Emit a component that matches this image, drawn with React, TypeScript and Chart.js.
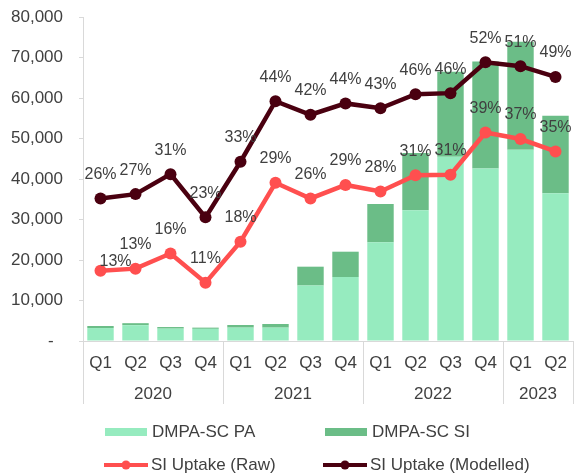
import React, { useEffect, useRef } from "react";
import { Chart, registerables } from "chart.js";

Chart.register(...registerables);

const quarters = ["Q1", "Q2", "Q3", "Q4", "Q1", "Q2", "Q3", "Q4", "Q1", "Q2", "Q3", "Q4", "Q1", "Q2"];
const years = ["2020", "2021", "2022", "2023"];
const quartersPerYear = [4, 4, 4, 2];

const paValues = [3200, 3900, 3050, 3000, 3300, 3300, 13700, 15800, 24400, 32300, 45500, 42600, 47200, 36500];
const siValues = [500, 500, 400, 300, 650, 900, 4650, 6250, 9400, 14100, 21000, 26400, 26700, 19100];
const rawUptake = [13.0, 13.4, 16.2, 10.8, 18.4, 29.3, 26.4, 28.9, 27.7, 30.7, 30.8, 38.6, 37.4, 35.1];
const modelledUptake = [26.4, 27.2, 30.9, 22.9, 33.2, 44.4, 41.9, 44.0, 43.1, 45.7, 45.9, 51.6, 50.9, 48.9];

const seriesNames = ["DMPA-SC PA", "DMPA-SC SI", "SI Uptake (Raw)", "SI Uptake (Modelled)"];
const seriesColors = ["#96EBBF", "#6BBD87", "#FF4F4F", "#4A0010"];

const yMax = 80000;
const yStep = 10000;
const pctMax = 60;

const FONT = '"Liberation Sans", Arial, sans-serif';
const TEXT = "#404040";
const AXIS = "#d9d9d9";

const pctLabelPlugin = {
  id: "pctLabels",
  afterDatasetsDraw(chart: any) {
    const ctx = chart.ctx;
    ctx.save();
    ctx.font = `16px ${FONT}`;
    ctx.fillStyle = TEXT;
    ctx.textAlign = "center";
    ctx.textBaseline = "middle";
    chart.data.datasets.forEach((ds: any, i: number) => {
      if (ds.type !== "line") return;
      const meta = chart.getDatasetMeta(i);
      meta.data.forEach((pt: any, j: number) => {
        const v = ds.data[j];
        let dx = 0;
        let dy = -24;
        // first raw label sits to the right, closer to its point
        if (i === 0 && j === 0) {
          dx = 15;
          dy = -9;
        }
        ctx.fillText(`${Math.round(v)}%`, pt.x + dx, pt.y + dy);
      });
    });
    ctx.restore();
  },
};

const yearAxisPlugin = {
  id: "yearAxis",
  afterDraw(chart: any) {
    const ctx = chart.ctx;
    const xs = chart.scales.x;
    const area = chart.chartArea;
    const n = quarters.length;
    const w = (xs.right - xs.left) / n;
    ctx.save();
    ctx.strokeStyle = AXIS;
    ctx.lineWidth = 1;
    let start = 0;
    const bounds: number[] = [0];
    quartersPerYear.forEach((c) => {
      start += c;
      bounds.push(start);
    });
    bounds.forEach((b) => {
      let px = Math.round(xs.left + b * w) + 0.5;
      if (px > chart.width) px = chart.width - 0.5;
      ctx.beginPath();
      ctx.moveTo(px, area.bottom);
      ctx.lineTo(px, area.bottom + 63);
      ctx.stroke();
    });
    ctx.font = `17px ${FONT}`;
    ctx.fillStyle = TEXT;
    ctx.textAlign = "center";
    ctx.textBaseline = "middle";
    years.forEach((y, i) => {
      const cx = xs.left + ((bounds[i] + bounds[i + 1]) / 2) * w;
      ctx.fillText(y, cx, area.bottom + 53);
    });
    ctx.restore();
  },
};

const legendPlugin = {
  id: "customLegend",
  afterDraw(chart: any) {
    const ctx = chart.ctx;
    ctx.save();
    ctx.font = `17px ${FONT}`;
    ctx.fillStyle = TEXT;
    ctx.textAlign = "left";
    ctx.textBaseline = "middle";
    const items = [
      { x: 105, y: 432, kind: "bar", i: 0 },
      { x: 325, y: 432, kind: "bar", i: 1 },
      { x: 104, y: 465, kind: "line", i: 2 },
      { x: 323, y: 465, kind: "line", i: 3 },
    ];
    items.forEach((it) => {
      const color = seriesColors[it.i];
      if (it.kind === "bar") {
        ctx.fillStyle = color;
        ctx.fillRect(it.x, it.y - 4, 42, 8);
      } else {
        ctx.strokeStyle = color;
        ctx.lineWidth = 4;
        ctx.beginPath();
        ctx.moveTo(it.x, it.y);
        ctx.lineTo(it.x + 44, it.y);
        ctx.stroke();
        ctx.fillStyle = color;
        ctx.beginPath();
        ctx.arc(it.x + 22, it.y, 4.5, 0, Math.PI * 2);
        ctx.fill();
      }
      ctx.fillStyle = TEXT;
      ctx.fillText(seriesNames[it.i], it.x + 47, it.y);
    });
    ctx.restore();
  },
};

export default function App() {
  const ref = useRef<HTMLCanvasElement | null>(null);

  useEffect(() => {
    if (!ref.current) return;
    const chart = new Chart(ref.current, {
      type: "bar",
      data: {
        labels: quarters,
        datasets: [
          {
            type: "line",
            label: seriesNames[2],
            data: rawUptake,
            yAxisID: "y1",
            borderColor: seriesColors[2],
            backgroundColor: seriesColors[2],
            borderWidth: 4.5,
            pointRadius: 6,
            pointBorderWidth: 0,
            tension: 0,
            order: 0,
          } as any,
          {
            type: "line",
            label: seriesNames[3],
            data: modelledUptake,
            yAxisID: "y1",
            borderColor: seriesColors[3],
            backgroundColor: seriesColors[3],
            borderWidth: 4.5,
            pointRadius: 6,
            pointBorderWidth: 0,
            tension: 0,
            order: 0,
          } as any,
          {
            type: "bar",
            label: seriesNames[0],
            data: paValues,
            yAxisID: "y",
            backgroundColor: seriesColors[0],
            stack: "s",
            order: 1,
            categoryPercentage: 1,
            barPercentage: 0.755,
          } as any,
          {
            type: "bar",
            label: seriesNames[1],
            data: siValues,
            yAxisID: "y",
            backgroundColor: seriesColors[1],
            stack: "s",
            order: 1,
            categoryPercentage: 1,
            barPercentage: 0.755,
          } as any,
        ],
      },
      options: {
        responsive: false,
        animation: false,
        devicePixelRatio: 1,
        layout: { padding: { top: 17, right: 0, left: 0, bottom: 0 } },
        plugins: {
          legend: { display: false },
          tooltip: { enabled: false },
        },
        scales: {
          x: {
            stacked: true,
            grid: { display: false, drawTicks: false },
            border: { display: true, color: AXIS },
            ticks: { font: { family: FONT, size: 17 }, color: TEXT, padding: 12, maxRotation: 0, autoSkip: false },
            afterFit: (s: any) => {
              s.height = 132;
              s.paddingLeft = 0;
              s.paddingRight = 0;
            },
          },
          y: {
            stacked: true,
            min: 0,
            max: yMax,
            grid: { drawOnChartArea: false, drawTicks: true, tickLength: 4, color: AXIS },
            border: { display: true, color: AXIS },
            ticks: {
              stepSize: yStep,
              font: { family: FONT, size: 17 },
              color: TEXT,
              padding: 16,
              callback: (v: any) => (Number(v) === 0 ? "-  " : Number(v).toLocaleString("en-US")),
            },
            afterFit: (s: any) => {
              s.width = 83;
              s.paddingTop = 0;
              s.paddingBottom = 0;
            },
          },
          y1: {
            display: false,
            min: 0,
            max: pctMax,
          },
        },
      } as any,
      plugins: [yearAxisPlugin, pctLabelPlugin, legendPlugin],
    });
    return () => chart.destroy();
  }, []);

  return (
    <div style={{ position: "fixed", left: 0, top: 0, width: 579, height: 473, background: "#fff" }}>
      <canvas ref={ref} width={579} height={473} style={{ display: "block" }} />
    </div>
  );
}
